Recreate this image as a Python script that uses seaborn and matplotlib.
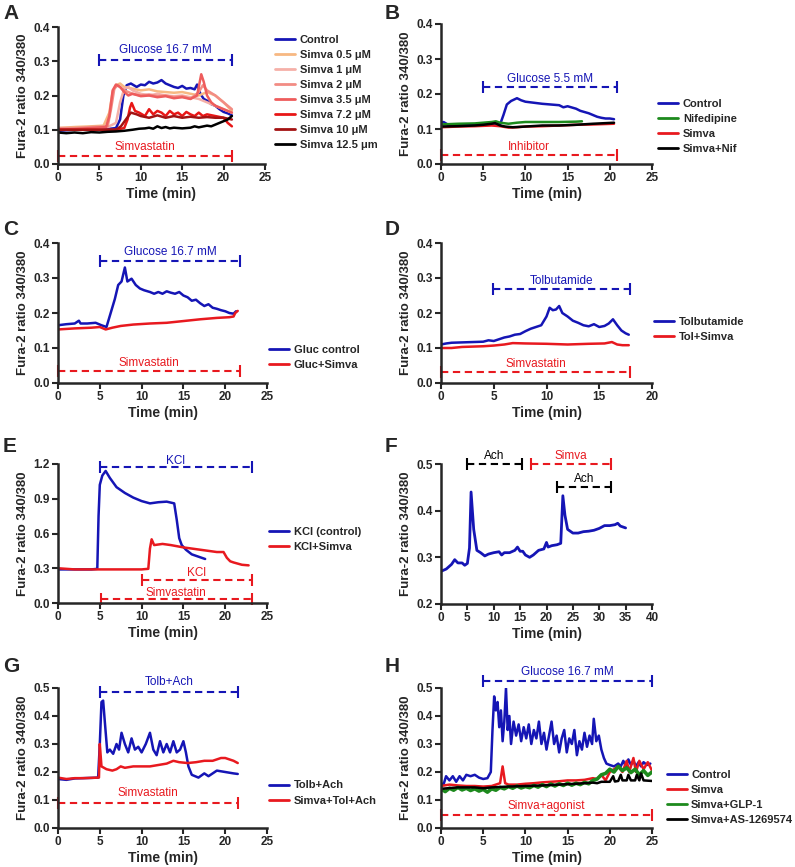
import numpy as np
import pandas as pd
import matplotlib
matplotlib.use('Agg')
import matplotlib.pyplot as plt
import seaborn as sns

# 钙成像 Fura-2 比值曲线，8 个面板

# ---------- A ----------
a_ctrl_t = [0, 2, 4, 6, 7, 7.5, 7.9, 8.3, 8.8, 9.5, 10, 10.5, 11, 11.5, 12, 12.5, 13, 13.5, 14, 14.5, 15, 15.5, 16, 16.5, 16.8, 17.2, 17.6, 18, 18.5, 19, 19.5, 20, 20.5, 21]
a_ctrl_v = [0.097, 0.1, 0.1, 0.102, 0.105, 0.13, 0.2, 0.23, 0.235, 0.225, 0.232, 0.23, 0.24, 0.235, 0.238, 0.245, 0.235, 0.23, 0.225, 0.222, 0.228, 0.22, 0.222, 0.218, 0.232, 0.205, 0.19, 0.185, 0.175, 0.17, 0.16, 0.152, 0.148, 0.142]
a_s05_t = [0, 2, 4, 5.5, 6.2, 6.6, 7, 7.5, 8, 9, 10, 11, 12, 13, 14, 15, 16, 17, 18, 19, 20, 21]
a_s05_v = [0.105, 0.108, 0.11, 0.112, 0.15, 0.21, 0.23, 0.235, 0.225, 0.22, 0.215, 0.218, 0.212, 0.21, 0.208, 0.21, 0.205, 0.2, 0.21, 0.2, 0.18, 0.155]
a_s1_t = [0, 2, 4, 6, 7, 7.5, 8, 8.5, 9, 10, 11, 12, 13, 14, 15, 16, 17, 18, 19, 20, 21]
a_s1_v = [0.1, 0.103, 0.105, 0.108, 0.12, 0.18, 0.22, 0.225, 0.215, 0.205, 0.2, 0.205, 0.2, 0.198, 0.2, 0.195, 0.19, 0.18, 0.17, 0.16, 0.15]
a_s2_t = [0, 2, 4, 6, 6.4, 6.8, 7.2, 8, 9, 10, 11, 12, 13, 14, 15, 16, 17, 17.5, 18, 19, 20, 21]
a_s2_v = [0.105, 0.105, 0.108, 0.11, 0.16, 0.22, 0.23, 0.215, 0.205, 0.2, 0.203, 0.198, 0.2, 0.195, 0.198, 0.19, 0.21, 0.23, 0.215, 0.2, 0.18, 0.16]
a_s35_t = [0, 2, 4, 5.8, 6.2, 6.6, 7, 7.5, 8, 8.5, 9, 10, 11, 12, 13, 14, 15, 16, 16.8, 17.3, 17.6, 18, 18.5, 19, 20, 21]
a_s35_v = [0.1, 0.102, 0.105, 0.108, 0.14, 0.215, 0.232, 0.225, 0.21, 0.2, 0.205, 0.198, 0.2, 0.195, 0.198, 0.192, 0.195, 0.19, 0.2, 0.262, 0.24, 0.2, 0.18, 0.17, 0.16, 0.15]
a_s72_t = [0, 2, 4, 6, 7, 8, 8.4, 8.7, 8.9, 9.3, 9.8, 10.5, 11, 11.5, 12, 12.5, 13, 13.5, 14, 14.5, 15, 15.5, 16, 16.5, 17, 17.5, 18, 19, 20, 20.5, 21]
a_s72_v = [0.1, 0.1, 0.1, 0.1, 0.1, 0.105, 0.13, 0.165, 0.178, 0.155, 0.15, 0.14, 0.16, 0.145, 0.155, 0.15, 0.14, 0.155, 0.145, 0.15, 0.14, 0.152, 0.145, 0.14, 0.15, 0.14, 0.145, 0.14, 0.135, 0.12, 0.11]
a_s10_t = [0, 2, 4, 6, 7, 7.6, 8.2, 8.8, 9.5, 10, 11, 12, 13, 14, 15, 16, 17, 18, 19, 20, 21]
a_s10_v = [0.1, 0.1, 0.1, 0.1, 0.1, 0.11, 0.13, 0.15, 0.145, 0.14, 0.135, 0.142, 0.135, 0.14, 0.135, 0.138, 0.135, 0.137, 0.135, 0.135, 0.13]
a_s125_t = [0, 1, 2, 3, 4, 5, 6, 7, 8, 9, 9.8, 10.5, 11, 11.5, 12, 12.5, 13, 13.5, 14, 15, 16, 16.5, 17, 18, 18.5, 19, 19.5, 20, 20.5, 21]
a_s125_v = [0.092, 0.09, 0.092, 0.09, 0.093, 0.092, 0.094, 0.095, 0.097, 0.1, 0.103, 0.104, 0.106, 0.103, 0.11, 0.105, 0.108, 0.104, 0.106, 0.104, 0.106, 0.11, 0.107, 0.112, 0.11, 0.115, 0.12, 0.125, 0.13, 0.14]

# ---------- B ----------
b_ctrl_t = [0, 0.3, 1, 3, 5, 6, 7, 7.4, 7.8, 8.3, 9, 9.5, 10, 11, 12, 13, 14, 14.5, 15, 16, 16.5, 17.5, 18, 18.5, 19, 19.5, 20, 20.5]
b_ctrl_v = [0.118, 0.12, 0.11, 0.112, 0.113, 0.115, 0.113, 0.14, 0.17, 0.18, 0.188, 0.182, 0.178, 0.175, 0.172, 0.17, 0.168, 0.162, 0.165, 0.158, 0.152, 0.145, 0.14, 0.135, 0.132, 0.13, 0.13, 0.128]
b_nif_t = [0, 2, 4, 5, 6, 6.5, 7, 8, 9, 10, 12, 14, 16, 16.7]
b_nif_v = [0.113, 0.115, 0.116, 0.118, 0.12, 0.122, 0.118, 0.115, 0.118, 0.12, 0.12, 0.12, 0.121, 0.122]
b_sim_t = [0, 2, 4, 6, 7, 8, 9, 10, 12, 14, 16, 18, 20.5]
b_sim_v = [0.105, 0.107, 0.108, 0.11, 0.108, 0.104, 0.105, 0.107, 0.108, 0.11, 0.112, 0.113, 0.115]
b_sn_t = [0, 2, 4, 5, 6, 6.4, 7, 7.6, 8.5, 10, 12, 14, 16, 18, 20.5]
b_sn_v = [0.107, 0.108, 0.11, 0.112, 0.115, 0.117, 0.11, 0.107, 0.105, 0.107, 0.11, 0.11, 0.112, 0.115, 0.118]

# ---------- C ----------
c_ctrl_t = [0, 1, 2, 2.5, 2.7, 3.5, 4.5, 5.2, 5.8, 6.3, 6.8, 7.2, 7.6, 8, 8.3, 8.8, 9.3, 9.8, 10.3, 11, 11.5, 12, 12.5, 13, 13.5, 14, 14.5, 15, 15.5, 16, 16.5, 17, 17.5, 18, 18.5, 19, 19.5, 20, 20.5, 21, 21.3]
c_ctrl_v = [0.165, 0.168, 0.17, 0.178, 0.17, 0.17, 0.172, 0.165, 0.16, 0.2, 0.24, 0.28, 0.29, 0.33, 0.29, 0.298, 0.28, 0.27, 0.265, 0.26, 0.255, 0.26, 0.255, 0.262, 0.258, 0.255, 0.26, 0.25, 0.245, 0.235, 0.238, 0.228, 0.22, 0.225, 0.215, 0.212, 0.208, 0.205, 0.2, 0.198, 0.205]
c_sim_t = [0, 2, 4, 5, 5.7, 6.5, 7.5, 9, 11, 13, 15, 17, 19, 20.5, 21, 21.2, 21.5]
c_sim_v = [0.153, 0.156, 0.158, 0.16, 0.153, 0.158, 0.163, 0.167, 0.17, 0.172, 0.177, 0.182, 0.186, 0.188, 0.19, 0.2, 0.206]

# ---------- D ----------
d_tol_t = [0, 0.5, 1, 2, 3, 4, 4.5, 5, 5.5, 6, 6.5, 7, 7.5, 8, 8.5, 9, 9.5, 10, 10.3, 10.6, 10.9, 11.2, 11.5, 12, 12.5, 13, 13.5, 14, 14.5, 15, 15.5, 15.9, 16.3, 16.7, 17.1, 17.5, 17.8]
d_tol_v = [0.11, 0.113, 0.115, 0.116, 0.117, 0.118, 0.122, 0.12, 0.125, 0.13, 0.133, 0.138, 0.14, 0.148, 0.155, 0.16, 0.165, 0.19, 0.215, 0.208, 0.21, 0.22, 0.2, 0.19, 0.178, 0.172, 0.165, 0.162, 0.168, 0.16, 0.163, 0.17, 0.182, 0.165, 0.15, 0.142, 0.138]
d_sim_t = [0, 1, 2, 4, 5, 6, 6.8, 8, 10, 12, 14, 15.5, 16.2, 16.7, 17.2, 17.8]
d_sim_v = [0.1, 0.1, 0.103, 0.105, 0.107, 0.11, 0.114, 0.113, 0.112, 0.11, 0.112, 0.113, 0.117, 0.11, 0.108, 0.108]

# ---------- E ----------
e_ctrl_t = [0, 2, 4, 4.7, 4.85, 5.0, 5.3, 5.7, 6.2, 7, 8, 9, 10, 11, 12, 13, 13.9, 14.2, 14.5, 14.8, 15.3, 16, 17, 17.6]
e_ctrl_v = [0.29, 0.29, 0.29, 0.295, 0.75, 1.02, 1.1, 1.14, 1.08, 1.0, 0.95, 0.91, 0.88, 0.86, 0.87, 0.875, 0.86, 0.72, 0.56, 0.5, 0.46, 0.42, 0.395, 0.38]
e_sim_t = [0, 2, 4, 6, 8, 10, 10.8, 11.0, 11.2, 11.5, 12.5, 13.5, 15, 16, 17, 18, 19, 19.8, 20.2, 20.6, 21, 22, 22.8]
e_sim_v = [0.3, 0.29, 0.29, 0.29, 0.29, 0.29, 0.295, 0.47, 0.55, 0.5, 0.51, 0.5, 0.48, 0.47, 0.46, 0.45, 0.44, 0.44, 0.39, 0.36, 0.35, 0.33, 0.325]

# ---------- F ----------
f_t = [0, 1, 2, 2.6, 3.2, 4, 4.5, 5, 5.4, 5.7, 6.2, 6.8, 7.5, 8.3, 9, 10, 11, 11.5, 12, 13, 14, 14.5, 15, 15.5, 16, 16.8, 17.5, 18.5, 19.5, 20, 20.3, 21, 22, 22.7, 23.1, 23.5, 24, 25, 26, 27, 28, 29, 30, 31, 32, 33, 33.5, 34, 35]
f_v = [0.27, 0.275, 0.285, 0.295, 0.288, 0.288, 0.283, 0.287, 0.32, 0.44, 0.36, 0.315, 0.31, 0.303, 0.307, 0.31, 0.312, 0.305, 0.31, 0.31, 0.315, 0.322, 0.313, 0.313, 0.305, 0.3, 0.305, 0.315, 0.318, 0.332, 0.322, 0.325, 0.327, 0.33, 0.432, 0.39, 0.36, 0.352, 0.352, 0.355, 0.356, 0.358, 0.362, 0.368, 0.368, 0.37, 0.373, 0.367, 0.363]

# ---------- G ----------
g_ctrl_t = [0, 1, 2, 3, 4, 4.8, 5.0, 5.2, 5.4, 5.6, 5.9, 6.2, 6.6, 7, 7.3, 7.6, 8, 8.4, 8.8, 9.2, 9.6, 10, 10.5, 11, 11.4, 11.8, 12.2, 12.6, 13, 13.4, 13.8, 14.2, 14.6, 15, 15.3, 15.6, 16, 16.8, 17.5, 18, 19, 20, 21, 21.5]
g_ctrl_v = [0.175, 0.172, 0.177, 0.178, 0.179, 0.18, 0.3, 0.45, 0.455, 0.38, 0.27, 0.28, 0.265, 0.3, 0.28, 0.34, 0.3, 0.27, 0.32, 0.28, 0.29, 0.27, 0.3, 0.34, 0.28, 0.26, 0.31, 0.27, 0.3, 0.27, 0.31, 0.27, 0.28, 0.31, 0.27, 0.22, 0.19, 0.18, 0.195, 0.185, 0.205, 0.2, 0.195, 0.193]
g_sim_t = [0, 1, 2, 3, 4.9, 5.0, 5.2, 5.8, 6.5, 7, 7.5, 8, 9, 10, 11, 12, 13, 13.8, 14.5, 15.5, 16.5, 17.5, 18.5, 19.5, 20, 20.5, 21, 21.5]
g_sim_v = [0.18, 0.175, 0.178, 0.178, 0.18, 0.3, 0.22, 0.21, 0.205, 0.21, 0.22, 0.215, 0.22, 0.22, 0.22, 0.225, 0.23, 0.24, 0.235, 0.232, 0.235, 0.24, 0.24, 0.25, 0.25, 0.245, 0.24, 0.232]

# ---------- H ----------
h_ctrl_t = [0, 0.3, 0.6, 1, 1.4, 1.8, 2.2, 2.6, 3, 3.5, 4, 4.5, 5, 5.5, 5.9, 6.1, 6.3, 6.5, 6.7, 6.9, 7.1, 7.3, 7.5, 7.7, 7.9, 8.1, 8.3, 8.6, 8.9, 9.2, 9.5, 9.8, 10.1, 10.4, 10.7, 11, 11.3, 11.6, 11.9, 12.2, 12.5, 12.8, 13.1, 13.4, 13.7, 14, 14.3, 14.6, 14.9, 15.2, 15.5, 15.8, 16.1, 16.4, 16.7, 17, 17.3, 17.6, 17.9, 18.1, 18.4, 18.7, 19, 19.3, 19.6, 20, 20.5, 21, 21.3, 21.6, 21.9, 22.2, 22.5, 22.8, 23.1, 23.4, 23.7, 24, 24.4, 24.8]
h_ctrl_v = [0.16, 0.155, 0.185, 0.17, 0.185, 0.165, 0.185, 0.17, 0.19, 0.185, 0.19, 0.18, 0.175, 0.178, 0.2, 0.35, 0.47, 0.42, 0.45, 0.36, 0.42, 0.31, 0.38, 0.5, 0.35, 0.4, 0.3, 0.38, 0.33, 0.37, 0.31, 0.36, 0.32, 0.37, 0.3, 0.35, 0.32, 0.38, 0.3, 0.34, 0.28, 0.33, 0.38, 0.3, 0.33, 0.27, 0.32, 0.35, 0.27, 0.32, 0.3, 0.35, 0.26, 0.31, 0.28, 0.34, 0.29, 0.33, 0.3, 0.39, 0.31, 0.33, 0.28, 0.25, 0.23, 0.225, 0.22, 0.23, 0.22, 0.24, 0.22, 0.245, 0.225, 0.24, 0.22, 0.235, 0.22, 0.235, 0.225, 0.23]
h_sim_t = [0, 1, 2, 3, 4, 5, 6, 7, 7.3, 7.6, 8, 9, 10, 11, 12, 13, 14, 15, 16, 17, 18, 18.5, 19, 19.5, 20, 20.5, 21, 21.5, 22, 22.3, 22.8, 23.1, 23.5, 24, 24.5, 25]
h_sim_v = [0.15, 0.155, 0.152, 0.15, 0.15, 0.148, 0.15, 0.16, 0.22, 0.16, 0.155, 0.155, 0.158, 0.16, 0.163, 0.165, 0.167, 0.17, 0.17, 0.172, 0.178, 0.175, 0.19, 0.17, 0.2, 0.21, 0.22, 0.2, 0.24, 0.2, 0.25, 0.2, 0.24, 0.21, 0.235, 0.205]
h_glp_t = [0, 0.5, 1, 1.5, 2, 2.5, 3, 3.5, 4, 4.5, 5, 5.5, 6, 6.5, 7, 7.5, 8, 8.5, 9, 9.5, 10, 10.5, 11, 11.5, 12, 12.5, 13, 13.5, 14, 14.5, 15, 15.5, 16, 16.5, 17, 17.5, 18, 18.5, 19, 19.5, 20, 20.5, 21, 21.5, 22, 22.5, 23, 23.5, 24, 24.5, 25]
h_glp_v = [0.14, 0.13, 0.142, 0.135, 0.145, 0.136, 0.142, 0.134, 0.14, 0.132, 0.138, 0.128, 0.14, 0.135, 0.145, 0.14, 0.148, 0.142, 0.15, 0.143, 0.148, 0.144, 0.152, 0.146, 0.155, 0.148, 0.157, 0.15, 0.158, 0.152, 0.16, 0.153, 0.16, 0.155, 0.163, 0.158, 0.17, 0.175, 0.19, 0.195, 0.21, 0.2, 0.22, 0.205, 0.215, 0.198, 0.21, 0.19, 0.205, 0.188, 0.2]
h_as_t = [0, 2, 4, 5, 6, 8, 10, 12, 14, 16, 18, 18.5, 19, 20, 20.4, 20.6, 21, 21.3, 21.5, 22, 22.2, 22.5, 23, 23.2, 23.5, 23.7, 24, 25]
h_as_v = [0.14, 0.145, 0.145, 0.142, 0.145, 0.148, 0.15, 0.152, 0.155, 0.158, 0.162, 0.16, 0.165, 0.165, 0.185, 0.166, 0.168, 0.19, 0.17, 0.17, 0.19, 0.17, 0.17, 0.19, 0.17, 0.195, 0.17, 0.168]

BLUE = '#1515b5'
RED = '#e8191f'
GREEN = '#1d8a1d'
BLACK = '#000000'

sns.set_style('ticks')
plt.rcParams['font.family'] = ['Liberation Sans', 'DejaVu Sans']
plt.rcParams['font.weight'] = 'bold'

fig = plt.figure(figsize=(7.95, 8.67), dpi=100)


def add_ax(l, t, r, b):
    return fig.add_axes([l / 795, 1 - b / 867, (r - l) / 795, (b - t) / 867])


def trace(ax, t, v, color, label, lw=1.8):
    df = pd.DataFrame({'t': t, 'v': v})
    sns.lineplot(data=df, x='t', y='v', ax=ax, color=color, lw=lw, label=label,
                 estimator=None, sort=False)


def bar(ax, x0, x1, y, color, text, ty):
    ax.plot([x0, x1], [y, y], color=color, lw=1.5, ls=(0, (3.5, 2.2)), clip_on=False)
    ax.plot([x0, x1], [y, y], ls='none', marker='|', ms=8, mew=1.5, color=color, clip_on=False)
    ax.text((x0 + x1) / 2, ty, text, color=color, ha='center', va='center',
            fontsize=8.5, fontweight='normal', clip_on=False)


def style(ax, xlim, xticks, ylim, yticks, yfmt, leg_anchor=None, letter=None, lpos=None):
    ax.set_xlim(*xlim)
    ax.set_ylim(*ylim)
    ax.set_xticks(xticks)
    ax.set_yticks(yticks)
    ax.set_yticklabels([yfmt.format(y) for y in yticks])
    ax.set_xlabel('Time (min)', fontsize=10, fontweight='bold', labelpad=2)
    ax.set_ylabel('Fura-2 ratio 340/380', fontsize=9.5, fontweight='bold', labelpad=3)
    for s in ['top', 'right']:
        ax.spines[s].set_visible(False)
    for s in ['left', 'bottom']:
        ax.spines[s].set_linewidth(1.8)
    ax.tick_params(width=1.5, length=4, labelsize=8.5, pad=2)
    for lb in ax.get_xticklabels() + ax.get_yticklabels():
        lb.set_fontweight('bold')
    if leg_anchor is not None:
        leg = ax.legend(loc='center left', bbox_to_anchor=leg_anchor, frameon=False,
                        fontsize=8, handlelength=1.8, handletextpad=0.4, labelspacing=0.45,
                        borderaxespad=0, borderpad=0)
        for tx in leg.get_texts():
            tx.set_fontweight('bold')
        for ln in leg.get_lines():
            ln.set_linewidth(2)
    elif ax.get_legend() is not None:
        ax.get_legend().remove()
    if letter:
        fig.text(lpos[0] / 795, 1 - lpos[1] / 867, letter, fontsize=15, fontweight='bold',
                 ha='left', va='top')


# A
ax = add_ax(58, 27, 265, 164)
trace(ax, a_ctrl_t, a_ctrl_v, BLUE, 'Control')
trace(ax, a_s05_t, a_s05_v, '#f7b882', 'Simva 0.5 \u03bcM')
trace(ax, a_s1_t, a_s1_v, '#f5b0a8', 'Simva 1 \u03bcM')
trace(ax, a_s2_t, a_s2_v, '#f28c84', 'Simva 2 \u03bcM')
trace(ax, a_s35_t, a_s35_v, '#ee5c5c', 'Simva 3.5 \u03bcM')
trace(ax, a_s72_t, a_s72_v, '#e81616', 'Simva 7.2 \u03bcM')
trace(ax, a_s10_t, a_s10_v, '#a31212', 'Simva 10 \u03bcM')
trace(ax, a_s125_t, a_s125_v, BLACK, 'Simva 12.5 \u03bcm')
bar(ax, 5, 21, 0.305, BLUE, 'Glucose 16.7 mM', 0.333)
bar(ax, 0, 21, 0.024, RED, 'Simvastatin', 0.05)
style(ax, (0, 25), [0, 5, 10, 15, 20, 25], (0, 0.4), [0, 0.1, 0.2, 0.3, 0.4], '{:.1f}',
      (1.05, 0.52), 'A', (3, 4))

# B
ax = add_ax(441, 24, 652, 164)
trace(ax, b_ctrl_t, b_ctrl_v, BLUE, 'Control')
trace(ax, b_nif_t, b_nif_v, GREEN, 'Nifedipine')
trace(ax, b_sim_t, b_sim_v, RED, 'Simva')
trace(ax, b_sn_t, b_sn_v, BLACK, 'Simva+Nif')
bar(ax, 5, 20.8, 0.22, BLUE, 'Glucose 5.5 mM', 0.243)
bar(ax, 0, 20.8, 0.027, RED, 'Inhibitor', 0.049)
style(ax, (0, 25), [0, 5, 10, 15, 20, 25], (0, 0.4), [0, 0.1, 0.2, 0.3, 0.4], '{:.1f}',
      (1.03, 0.27), 'B', (385, 4))

# C
ax = add_ax(58, 243, 267, 383)
trace(ax, c_ctrl_t, c_ctrl_v, BLUE, 'Gluc control')
trace(ax, c_sim_t, c_sim_v, RED, 'Gluc+Simva')
bar(ax, 5, 21.8, 0.349, BLUE, 'Glucose 16.7 mM', 0.374)
bar(ax, 0, 21.8, 0.034, RED, 'Simvastatin', 0.056)
style(ax, (0, 25), [0, 5, 10, 15, 20, 25], (0, 0.4), [0, 0.1, 0.2, 0.3, 0.4], '{:.1f}',
      (1.01, 0.18), 'C', (3, 220))

# D
ax = add_ax(441, 243, 652, 383)
trace(ax, d_tol_t, d_tol_v, BLUE, 'Tolbutamide')
trace(ax, d_sim_t, d_sim_v, RED, 'Tol+Simva')
bar(ax, 4.9, 17.9, 0.269, BLUE, 'Tolbutamide', 0.292)
bar(ax, 0, 17.9, 0.031, RED, 'Simvastatin', 0.054)
style(ax, (0, 20), [0, 5, 10, 15, 20], (0, 0.4), [0, 0.1, 0.2, 0.3, 0.4], '{:.1f}',
      (1.01, 0.38), 'D', (385, 220))

# E
ax = add_ax(58, 464, 267, 603)
trace(ax, e_ctrl_t, e_ctrl_v, BLUE, 'KCl (control)')
trace(ax, e_sim_t, e_sim_v, RED, 'KCl+Simva')
bar(ax, 5, 23.2, 1.17, BLUE, 'KCl', 1.225)
bar(ax, 10, 23.2, 0.2, RED, 'KCl', 0.262)
bar(ax, 5.1, 23.2, 0.035, RED, 'Simvastatin', 0.09)
style(ax, (0, 25), [0, 5, 10, 15, 20, 25], (0, 1.2), [0, 0.3, 0.6, 0.9, 1.2], '{:.1f}',
      (1.01, 0.46), 'E', (3, 437))

# F
ax = add_ax(441, 464, 652, 604)
trace(ax, f_t, f_v, BLUE, None, lw=2)
bar(ax, 5, 15.3, 0.5, BLACK, 'Ach', 0.518)
bar(ax, 17, 32.3, 0.5, RED, 'Simva', 0.518)
bar(ax, 22, 32.3, 0.451, BLACK, 'Ach', 0.468)
style(ax, (0, 40), [0, 5, 10, 15, 20, 25, 30, 35, 40], (0.2, 0.5), [0.2, 0.3, 0.4, 0.5], '{:.1f}',
      None, 'F', (385, 437))

# G
ax = add_ax(58, 688, 267, 828)
trace(ax, g_ctrl_t, g_ctrl_v, BLUE, 'Tolb+Ach')
trace(ax, g_sim_t, g_sim_v, RED, 'Simva+Tol+Ach')
bar(ax, 5, 21.5, 0.486, BLUE, 'Tolb+Ach', 0.52)
bar(ax, 0, 21.5, 0.089, RED, 'Simvastatin', 0.125)
style(ax, (0, 25), [0, 5, 10, 15, 20, 25], (0, 0.5), [0, 0.1, 0.2, 0.3, 0.4, 0.5], '{:.1f}',
      (1.01, 0.25), 'G', (3, 657))

# H
ax = add_ax(441, 688, 652, 828)
trace(ax, h_ctrl_t, h_ctrl_v, BLUE, 'Control')
trace(ax, h_sim_t, h_sim_v, RED, 'Simva')
trace(ax, h_glp_t, h_glp_v, GREEN, 'Simva+GLP-1', lw=2.6)
trace(ax, h_as_t, h_as_v, BLACK, 'Simva+AS-1269574')
bar(ax, 5, 25, 0.525, BLUE, 'Glucose 16.7 mM', 0.556)
bar(ax, 0, 25, 0.046, RED, 'Simva+agonist', 0.077)
style(ax, (0, 25), [0, 5, 10, 15, 20, 25], (0, 0.5), [0, 0.1, 0.2, 0.3, 0.4, 0.5], '{:.1f}',
      (1.07, 0.22), 'H', (385, 657))

fig.savefig('out.png', dpi=100)
